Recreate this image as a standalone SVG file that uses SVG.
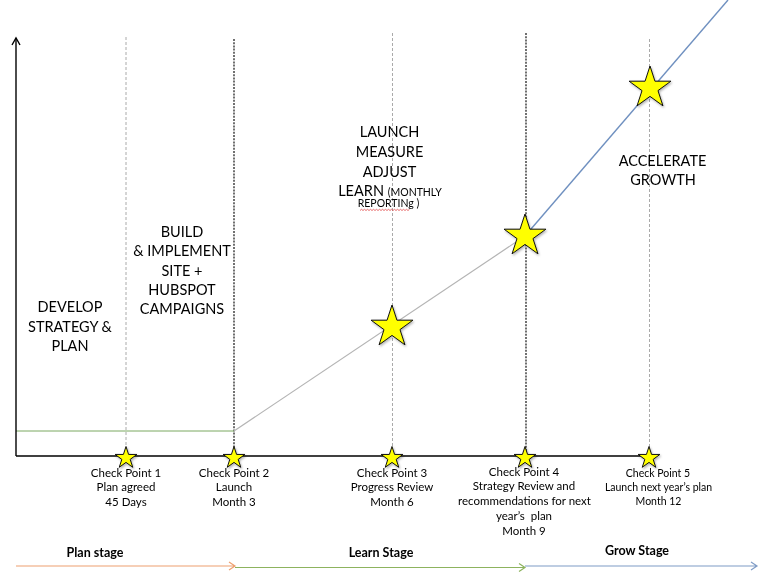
<svg xmlns="http://www.w3.org/2000/svg" width="762" height="576" viewBox="0 0 762 576">
<style>
text{font-family:Lato,"Liberation Sans",sans-serif;fill:#000;text-anchor:middle}
.big{font-size:14.5px}
.sm{font-size:11.5px}
.sm5{font-size:10.5px}
.tiny{font-size:10.5px}
.stage{font-size:12.5px;font-weight:bold}
.grid-g{stroke:#aaa;stroke-width:1;stroke-dasharray:3 2;fill:none}
.grid-k{stroke:#111;stroke-width:1.2;stroke-dasharray:2 1.2;fill:none}
.axis{stroke:#000;stroke-width:1.4;fill:none}
.star{fill:#ffff00;stroke:#111;stroke-width:1;stroke-linejoin:miter}
</style>
<defs>
<filter id="sh" x="-30%" y="-30%" width="160%" height="160%">
<feDropShadow dx="1" dy="1.5" stdDeviation="1" flood-color="#000" flood-opacity="0.3"/>
</filter>
<path id="bstar" d="M0,-22L4.94,-6.8L20.92,-6.8L7.99,2.6L12.93,17.8L0,8.4L-12.93,17.8L-7.99,2.6L-20.92,-6.8L-4.94,-6.8Z"/>
<path id="sstar" d="M0,-11.5L2.58,-3.55L10.94,-3.55L4.18,1.36L6.76,9.3L0,4.39L-6.76,9.3L-4.18,1.36L-10.94,-3.55L-2.58,-3.55Z"/>
</defs>
<rect width="762" height="576" fill="#fff"/>

<g id="connectors">
<line class="grid-g" x1="126" y1="37" x2="126" y2="456"/>
<line class="grid-k" x1="234" y1="39" x2="234" y2="456"/>
<line class="grid-g" x1="392.5" y1="33" x2="392.5" y2="456"/>
<line class="grid-k" x1="526" y1="33" x2="526" y2="456"/>
<line class="grid-g" x1="649.5" y1="39" x2="649.5" y2="456"/>
<line x1="16" y1="431" x2="234" y2="431" stroke="#7aa860" stroke-width="1"/>
<line x1="234" y1="431" x2="525" y2="236" stroke="#b4b4b4" stroke-width="1.2"/>
<line x1="525" y1="236" x2="728" y2="0" stroke="#6f90c0" stroke-width="1.4"/>
<path class="axis" d="M16,456V38"/>
<path class="axis" d="M12,45L16,38L20,45"/>
<path class="axis" d="M16,456H648"/>
<path d="M16,566H235M229,562L235,566L229,570" stroke="#eea070" stroke-width="1.2" fill="none"/>
<path d="M235,567.5H525M519,563.5L525,567.5L519,571.5" stroke="#8db35e" stroke-width="1.2" fill="none"/>
<path d="M525,566H757M751,562L757,566L751,570" stroke="#7f9cc6" stroke-width="1.2" fill="none"/>
</g>

<g id="stars" filter="url(#sh)">
<use href="#bstar" class="star" x="392" y="327"/>
<use href="#bstar" class="star" x="525" y="236"/>
<use href="#bstar" class="star" x="650" y="88"/>
<use href="#sstar" class="star" x="126" y="458"/>
<use href="#sstar" class="star" x="234" y="458"/>
<use href="#sstar" class="star" x="392" y="458"/>
<use href="#sstar" class="star" x="525" y="458"/>
<use href="#sstar" class="star" x="649" y="458"/>
</g>

<g id="develop">
<text class="big" x="70" y="312">DEVELOP</text>
<text class="big" x="70" y="332">STRATEGY &amp;</text>
<text class="big" x="70" y="351">PLAN</text>
</g>

<g id="build">
<text class="big" x="182" y="237">BUILD</text>
<text class="big" x="182" y="256">&amp; IMPLEMENT</text>
<text class="big" x="182" y="276">SITE +</text>
<text class="big" x="182" y="295">HUBSPOT</text>
<text class="big" x="182" y="314">CAMPAIGNS</text>
</g>

<g id="launch">
<text class="big" x="389.5" y="137">LAUNCH</text>
<text class="big" x="389.5" y="157">MEASURE</text>
<text class="big" x="389.5" y="177">ADJUST</text>
<text x="390" y="196"><tspan class="big">LEARN </tspan><tspan class="tiny">(MONTHLY</tspan></text>
<text class="tiny" x="388.5" y="207">REPORTINg )</text>
<path d="M360,210.5l1.5,-1.2l1.5,1.2l1.5,-1.2l1.5,1.2l1.5,-1.2l1.5,1.2l1.5,-1.2l1.5,1.2l1.5,-1.2l1.5,1.2l1.5,-1.2l1.5,1.2l1.5,-1.2l1.5,1.2l1.5,-1.2l1.5,1.2l1.5,-1.2l1.5,1.2l1.5,-1.2l1.5,1.2l1.5,-1.2l1.5,1.2l1.5,-1.2l1.5,1.2l1.5,-1.2l1.5,1.2l1.5,-1.2l1.5,1.2l1.5,-1.2l1.5,1.2l1.5,-1.2l1.5,1.2l1.5,-1.2" stroke="#e03030" stroke-width="0.7" fill="none"/>
</g>

<g id="accelerate">
<text class="big" x="662.5" y="166">ACCELERATE</text>
<text class="big" x="663" y="185">GROWTH</text>
</g>

<g id="cp1">
<text class="sm" x="126" y="477">Check Point 1</text>
<text class="sm" x="126" y="491">Plan agreed</text>
<text class="sm" x="126" y="506">45 Days</text>
</g>
<g id="cp2">
<text class="sm" x="234" y="477">Check Point 2</text>
<text class="sm" x="234" y="491">Launch</text>
<text class="sm" x="234" y="506">Month 3</text>
</g>
<g id="cp3">
<text class="sm" x="392" y="477">Check Point 3</text>
<text class="sm" x="392" y="491">Progress Review</text>
<text class="sm" x="392" y="506">Month 6</text>
</g>
<g id="cp4">
<text class="sm" x="524" y="476">Check Point 4</text>
<text class="sm" x="524" y="490">Strategy Review and</text>
<text class="sm" x="524.5" y="505">recommendations for next</text>
<text class="sm" x="524" y="520" style="white-space:pre">year’s  plan</text>
<text class="sm" x="524" y="535">Month 9</text>
</g>
<g id="cp5">
<text class="sm5" x="658" y="477">Check Point 5</text>
<text class="sm5" x="658.5" y="491">Launch next year’s plan</text>
<text class="sm5" x="658.5" y="505">Month 12</text>
</g>

<g id="stages">
<text class="stage" x="95" y="557">Plan stage</text>
<text class="stage" x="381" y="557">Learn Stage</text>
<text class="stage" x="637" y="555">Grow Stage</text>
</g>
</svg>
